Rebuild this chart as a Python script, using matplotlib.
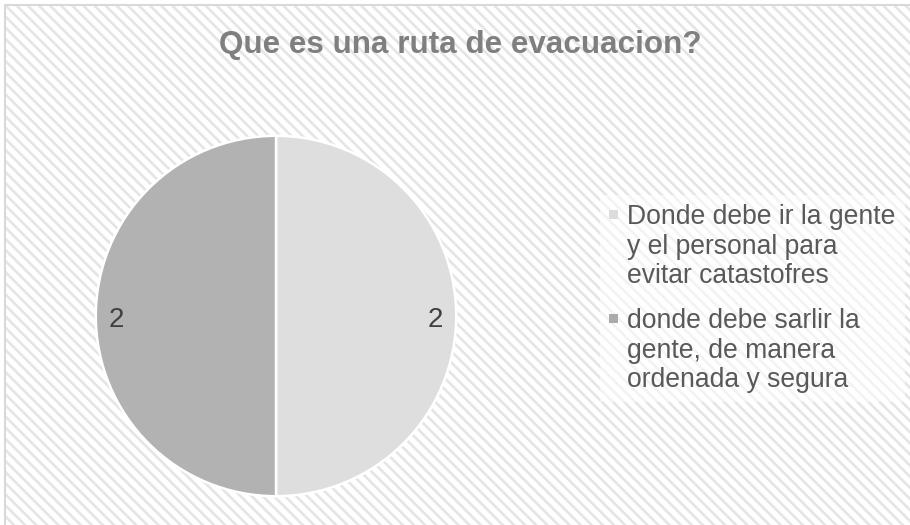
import textwrap
import matplotlib
matplotlib.use("Agg")
import matplotlib.pyplot as plt
from matplotlib.patches import Rectangle

categories = ["Donde debe ir la gente y el personal para evitar catastofres",
              "donde debe sarlir la gente, de manera ordenada y segura"]
values = [2, 2]
colors = ["#dedede", "#b2b2b2"]
title = "Que es una ruta de evacuacion?"

plt.rcParams['font.family'] = ['Liberation Sans', 'DejaVu Sans']
plt.rcParams['hatch.linewidth'] = 1.9

W, H = 910, 525
fig = plt.figure(figsize=(W / 100, H / 100), dpi=100)
fig.patch.set_facecolor("white")

# hatched chart area
x0, ytop = 5 / W, 5 / H
bg = Rectangle((x0, 0), 1 - x0, 1 - ytop, transform=fig.transFigure,
               facecolor="white", edgecolor="#e5e5e5", hatch="\\\\\\", lw=0, zorder=-10)
fig.patches.append(bg)
border = Rectangle((x0, -0.01), 1.1, 1 - ytop + 0.01, transform=fig.transFigure,
                   facecolor="none", edgecolor="#d9d9d9", lw=1.5, zorder=-9)
fig.patches.append(border)

fig.text(460 / W, 1 - 45 / H, title, ha="center", va="center",
         fontsize=22.6, fontweight="bold", color="#7f7f7f")

# pie axes: center (276,316), radius 182 px
cx, cy, r = 276, 316, 182
ax = fig.add_axes([(cx - r) / W, 1 - (cy + r) / H, 2 * r / W, 2 * r / H])
ax.set_axis_off()
wedges, texts = ax.pie(values, colors=colors, startangle=90, counterclock=False,
                       labels=[str(v) for v in values], labeldistance=0.885,
                       wedgeprops=dict(edgecolor="white", linewidth=1.8),
                       textprops=dict(fontsize=20, color="#404040"))
for t in texts:
    t.set_ha("center")
    t.set_va("center")
    px, py = t.get_position()
    t.set_position((px, py - 0.02))
ax.set_xlim(-1.01, 1.01)
ax.set_ylim(-1.01, 1.01)
ax.set_aspect("equal")

# legend (manual) with translucent white box
fig.patches.append(Rectangle((600 / W, 1 - 402 / H), 305 / W, 207 / H,
                             transform=fig.transFigure, facecolor="white",
                             edgecolor="none", alpha=0.55, zorder=-5))
line_h = 29.5
base = 224
marker_cols = ["#dcdcdc", "#ababab"]
for cat, col in zip(categories, marker_cols):
    lines = textwrap.wrap(cat, 22)
    fig.patches.append(Rectangle((609 / W, 1 - (base - 5.5) / H), 9 / W, 9 / H,
                                 transform=fig.transFigure, facecolor=col,
                                 edgecolor="none"))
    for i, ln in enumerate(lines):
        fig.text(627 / W, 1 - (base + i * line_h) / H, ln, ha="left", va="baseline",
                 fontsize=19.1, color="#595959")
    base += line_h * (len(lines) - 1) + 45

fig.savefig("out.png", dpi=100)
